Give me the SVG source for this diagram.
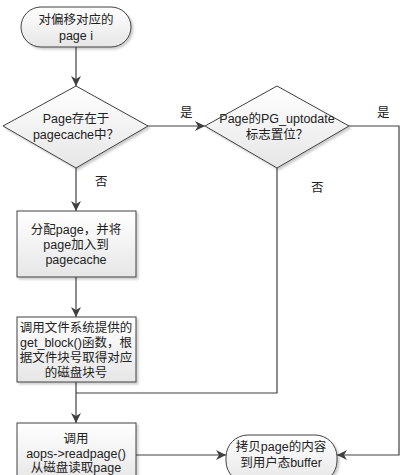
<svg xmlns="http://www.w3.org/2000/svg" width="403" height="475" viewBox="0 0 403 475">
<defs>
<linearGradient id="g" x1="0" y1="0" x2="0" y2="1">
<stop offset="0" stop-color="#ffffff"/>
<stop offset="1" stop-color="#e6e6e6"/>
</linearGradient>
<marker id="a" viewBox="0 0 10 10" refX="10" refY="5" markerWidth="10" markerHeight="10" markerUnits="userSpaceOnUse" orient="auto">
<path d="M0,0 L10,5 L0,10 L3,5 Z" fill="#404040"/>
</marker>
<filter id="sh" x="-10%" y="-10%" width="130%" height="130%">
<feDropShadow dx="2" dy="2" stdDeviation="1" flood-color="#000" flood-opacity="0.2"/>
</filter>
</defs>
<style>
.s{fill:url(#g);stroke:#404040;stroke-width:1;filter:url(#sh)}
.t{font-family:"Liberation Sans","Noto Sans CJK SC",sans-serif;font-size:12.5px;fill:#222;text-anchor:middle}
.l{font-family:"Liberation Sans","Noto Sans CJK SC",sans-serif;font-size:12.5px;fill:#222}
.c{fill:none;stroke:#404040;stroke-width:1.2}
</style>
<rect width="403" height="475" fill="#fff"/>
<g id="connectors">
<path class="c" d="M76,47 V86" marker-end="url(#a)"/>
<path class="c" d="M148,126 H205" marker-end="url(#a)"/>
<path class="c" d="M76,168 V211" marker-end="url(#a)"/>
<path class="c" d="M76,277 V317" marker-end="url(#a)"/>
<path class="c" d="M76,382 V423" marker-end="url(#a)"/>
<path class="c" d="M277,168 V393 H76"/>
<path class="c" d="M136,455 H226" marker-end="url(#a)"/>
<path class="c" d="M349,126 H399 V455 H337" marker-end="url(#a)"/>
<text class="l" x="180" y="117">是</text>
<text class="l" x="377" y="117">是</text>
<text class="l" x="95" y="186">否</text>
<text class="l" x="311" y="192">否</text>
</g>
<g id="start">
<rect class="s" x="21" y="7" width="110" height="40" rx="20" ry="20"/>
<text class="t" x="76" y="24">对偏移对应的</text>
<text class="t" x="76" y="40">page i</text>
</g>
<g id="d1">
<polygon class="s" points="76,86 148,126 76,168 3,126"/>
<text class="t" x="76" y="123">Page存在于</text>
<text class="t" x="76" y="139">pagecache中？</text>
</g>
<g id="d2">
<polygon class="s" points="277,86 349,126 277,168 205,126"/>
<text class="t" x="277" y="123">Page的PG_uptodate</text>
<text class="t" x="277" y="139">标志置位？</text>
</g>
<g id="b1">
<rect class="s" x="17" y="211" width="119" height="66"/>
<text class="t" x="76" y="234">分配page，并将</text>
<text class="t" x="76" y="249">page加入到</text>
<text class="t" x="76" y="264">pagecache</text>
</g>
<g id="b2">
<rect class="s" x="17" y="317" width="119" height="65"/>
<text class="t" x="76" y="332">调用文件系统提供的</text>
<text class="t" x="76" y="347">get_block()函数，根</text>
<text class="t" x="76" y="362">据文件块号取得对应</text>
<text class="t" x="76" y="377">的磁盘块号</text>
</g>
<g id="b3">
<rect class="s" x="17" y="423" width="119" height="60"/>
<text class="t" x="76" y="443">调用</text>
<text class="t" x="76" y="458">aops-&gt;readpage()</text>
<text class="t" x="76" y="472">从磁盘读取page</text>
</g>
<g id="end">
<rect class="s" x="226" y="435" width="111" height="48" rx="22" ry="22"/>
<text class="t" x="281" y="451">拷贝page的内容</text>
<text class="t" x="281" y="467">到用户态buffer</text>
</g>
</svg>
